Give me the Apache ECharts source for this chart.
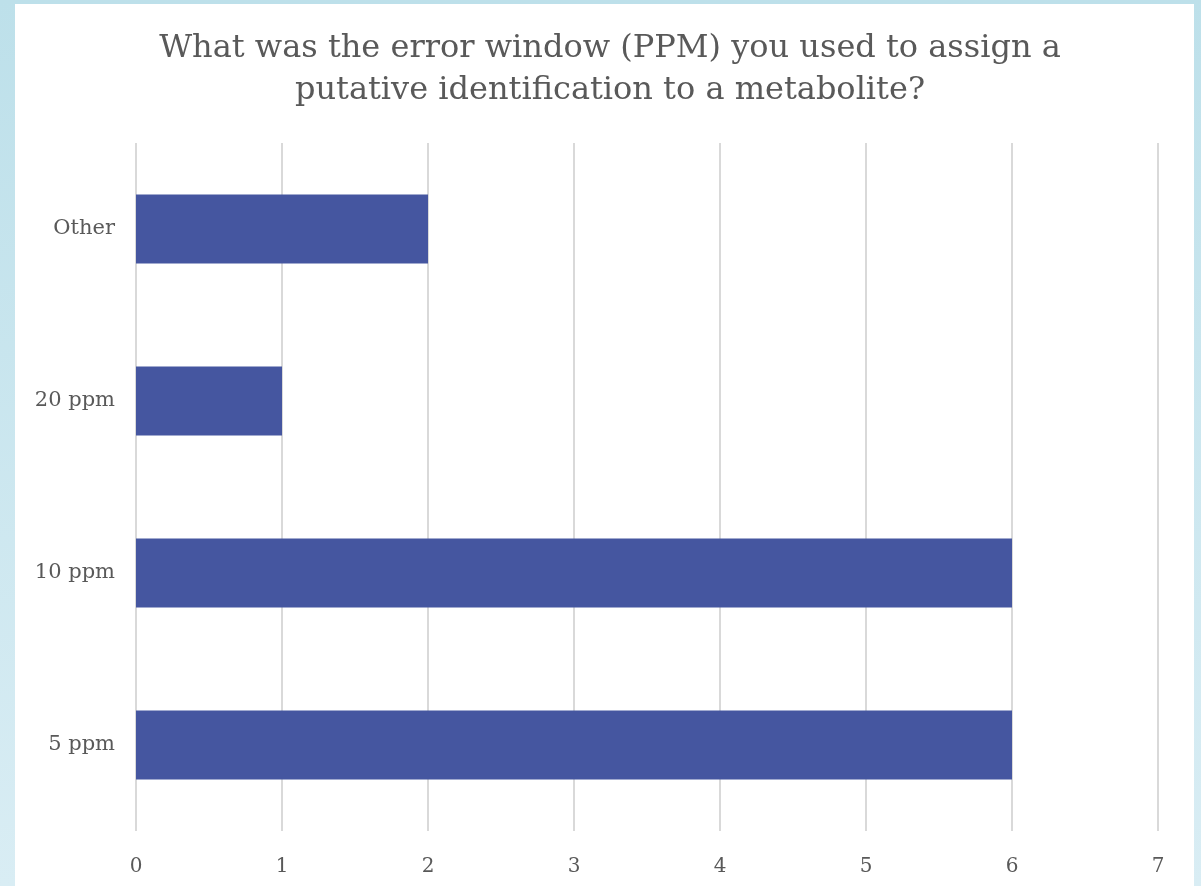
<!DOCTYPE html>
<html>
<head>
<meta charset="utf-8">
<script src="https://cdn.jsdelivr.net/npm/echarts@6/dist/echarts.min.js"></script>
<style>
  html, body { margin: 0; padding: 0; width: 1201px; height: 886px; overflow: hidden; }
  body { background: linear-gradient(to bottom, #bde0ea, #d9edf4); }
  #chart { position: absolute; left: 15px; top: 4px; width: 1179px; height: 882px; background: #ffffff; }
</style>
</head>
<body>
<div id="chart"></div>
<script>
var categories = ['5 ppm', '10 ppm', '20 ppm', 'Other'];
var counts = [6, 6, 1, 2];
var titleText = 'What was the error window (PPM) you used to assign a\nputative identification to a metabolite?';

var dom = document.getElementById("chart");
var myChart = echarts.init(dom);
var option = null;

var textFont = 'DejaVu Serif';

option = {
    animation: false,
    title: [{
        left: 590,
        top: 19,
        text: titleText,
        textAlign: 'center',
        textStyle: {
            fontFamily: textFont,
            fontWeight: 'normal',
            fontSize: 32,
            lineHeight: 42,
            color: '#595959'
        }
    }],
    grid: {
        left: 121,
        right: 36,
        top: 139,
        bottom: 55,
        containLabel: false
    },
    xAxis: [{
        type: 'value',
        min: 0,
        max: 7,
        interval: 1,
        axisLine: {show: false},
        axisTick: {show: false},
        splitLine: {show: true, lineStyle: {color: '#d9d9d9', width: 2}},
        axisLabel: {
            margin: 26,
            fontFamily: textFont,
            fontSize: 20,
            color: '#595959'
        }
    }],
    yAxis: [{
        type: 'category',
        data: categories,
        axisLine: {show: false},
        axisTick: {show: false},
        splitLine: {show: false},
        axisLabel: {
            margin: 21,
            fontFamily: textFont,
            fontSize: 21,
            color: '#595959'
        }
    }],
    series: [{
        type: 'bar',
        data: counts,
        barWidth: 69,
        itemStyle: {color: '#4556a0'}
    }]
};
if (option && typeof option === "object") {
    myChart.setOption(option, true);
}
</script>
</body>
</html>
